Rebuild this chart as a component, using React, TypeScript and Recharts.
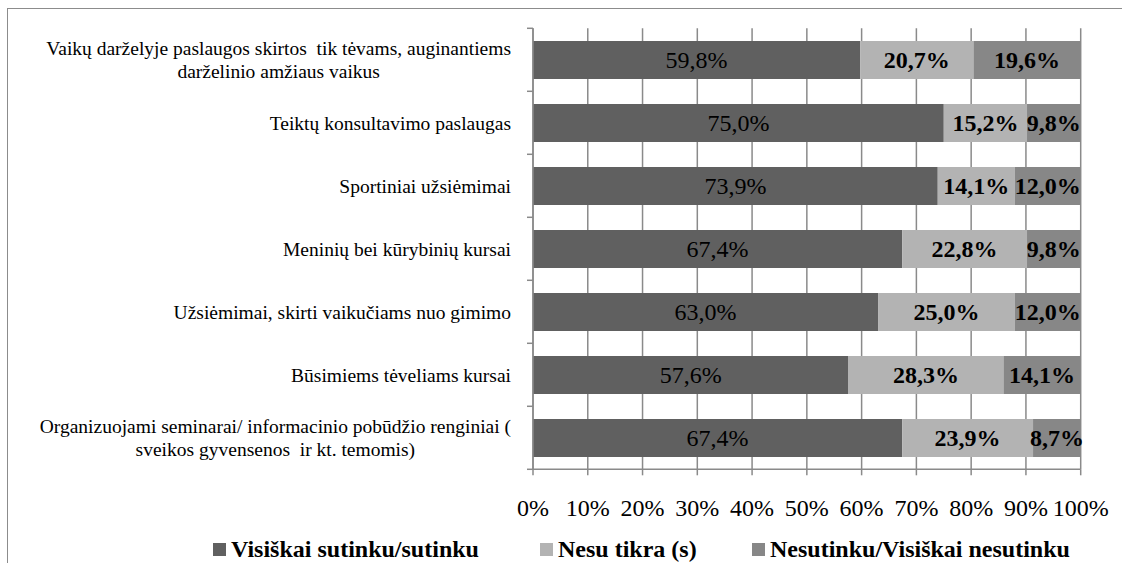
import React from "react";
import { BarChart, Bar, XAxis, YAxis, CartesianGrid, LabelList, Legend } from "recharts";

// Survey answers (per cent of respondents)
const categories = [
  "Vaikų darželyje paslaugos skirtos  tik tėvams, auginantiems\ndarželinio amžiaus vaikus",
  "Teiktų konsultavimo paslaugas",
  "Sportiniai užsiėmimai",
  "Meninių bei kūrybinių kursai",
  "Užsiėmimai, skirti vaikučiams nuo gimimo",
  "Būsimiems tėveliams kursai",
  "Organizuojami seminarai/ informacinio pobūdžio renginiai (\nsveikos gyvensenos  ir kt. temomis)",
];
const agree = [59.8, 75.0, 73.9, 67.4, 63.0, 57.6, 67.4];
const unsure = [20.7, 15.2, 14.1, 22.8, 25.0, 28.3, 23.9];
const disagree = [19.6, 9.8, 12.0, 9.8, 12.0, 14.1, 8.7];
const seriesNames = ["Visiškai sutinku/sutinku", "Nesu tikra (s)", "Nesutinku/Visiškai nesutinku"];
const xTicks = [0, 0.1, 0.2, 0.3, 0.4, 0.5, 0.6, 0.7, 0.8, 0.9, 1];

const data = categories.map((name, i) => ({
  name,
  agree: agree[i],
  unsure: unsure[i],
  disagree: disagree[i],
}));

const W = 1122;
const H = 563;
const FONT =
  "'Liberation Serif', 'Times New Roman', Times, Tinos, 'Nimbus Roman', 'FreeSerif', 'DejaVu Serif', 'Noto Serif', serif";
const GRID = "#8a8a8a";
const COLORS = ["#606060", "#b3b3b3", "#878787"];

const PLOT_LEFT = 533;
const PLOT_TOP = 28.3;
const PLOT_RIGHT = 1080.7;
const PLOT_BOTTOM = 469.3;
const BAND = (PLOT_BOTTOM - PLOT_TOP) / categories.length;
const LABEL_RIGHT = 511;
const CAT_SIZE = 19.5;
const LINE_GAP = 23;
const LEGEND_ITEM_W = [327, 212, 0];

let measureCtx: CanvasRenderingContext2D | null = null;
function textWidth(s: string) {
  if (!measureCtx) measureCtx = document.createElement("canvas").getContext("2d");
  if (!measureCtx) return s.length * CAT_SIZE * 0.45;
  measureCtx.font = `${CAT_SIZE}px ${FONT}`;
  return measureCtx.measureText(s).width;
}

const pct = (v: number) => `${v.toFixed(1).replace(".", ",")}%`;

// category label + boundary tick marks of the left axis
function CategoryTick(props: any) {
  const { y, payload, index } = props;
  const lines = String(payload.value).split("\n");
  const widest = Math.max(...lines.map(textWidth));
  const cx = LABEL_RIGHT - widest / 2;
  const first = y - ((lines.length - 1) * LINE_GAP) / 2;
  return (
    <g>
      <line x1={PLOT_LEFT - 6} x2={PLOT_LEFT} y1={y - BAND / 2} y2={y - BAND / 2} stroke={GRID} strokeWidth={1.5} />
      {index === categories.length - 1 && (
        <line x1={PLOT_LEFT - 6} x2={PLOT_LEFT} y1={y + BAND / 2} y2={y + BAND / 2} stroke={GRID} strokeWidth={1.5} />
      )}
      <text
        textAnchor={lines.length > 1 ? "middle" : "end"}
        fill="#000"
        style={{ whiteSpace: "pre", fontFamily: FONT, fontSize: CAT_SIZE }}
      >
        {lines.map((l, i) => (
          <tspan key={i} x={lines.length > 1 ? cx : LABEL_RIGHT} y={first + i * LINE_GAP} dy="0.35em">
            {l}
          </tspan>
        ))}
      </text>
    </g>
  );
}

function LegendContent(props: any) {
  // keep the series order of the reference (Recharts reverses it in vertical layout)
  const items = [...(props.payload || [])].sort(
    (a: any, b: any) => seriesNames.indexOf(a.value) - seriesNames.indexOf(b.value)
  );
  return (
    <div
      style={{
        display: "flex",
        alignItems: "center",
        paddingLeft: 213,
        fontFamily: FONT,
        fontWeight: 700,
        fontSize: 24,
        lineHeight: "28px",
        color: "#000",
      }}
    >
      {items.map((it: any, i: number) => (
        <div
          key={it.value}
          style={{ display: "flex", alignItems: "center", width: LEGEND_ITEM_W[i] || undefined, flex: "none" }}
        >
          <span style={{ width: 13, height: 13, background: it.color, marginRight: 5, display: "inline-block" }} />
          <span style={{ whiteSpace: "pre" }}>{it.value}</span>
        </div>
      ))}
    </div>
  );
}

export default function App() {
  const labelStyle = { fontFamily: FONT, fontSize: 24, fill: "#000" };
  return (
    <div style={{ position: "fixed", left: 0, top: 0, width: W, height: H, background: "#fff", overflow: "hidden", fontFamily: FONT }}>
      <div
        style={{
          position: "absolute",
          left: 7,
          top: 8,
          width: W + 100,
          height: H + 100,
          borderTop: "1px solid #8c8c8c",
          borderLeft: "1px solid #8c8c8c",
        }}
      />
      <div style={{ position: "absolute", left: 0, top: 0 }}>
        <BarChart
          width={W}
          height={H}
          data={data}
          layout="vertical"
          stackOffset="expand"
          barCategoryGap="20%"
          margin={{ top: PLOT_TOP, right: W - PLOT_RIGHT, left: 0, bottom: 0 }}
          style={{ fontFamily: FONT }}
        >
          <CartesianGrid horizontal={false} stroke={GRID} strokeWidth={1.5} />
          <XAxis
            type="number"
            domain={[0, 1]}
            ticks={xTicks}
            interval={0}
            height={H - PLOT_BOTTOM}
            tickFormatter={(v: number) => `${Math.round(v * 100)}%`}
            tick={{ fontSize: 24, fill: "#000", style: { fontFamily: FONT } }}
            tickSize={6}
            tickMargin={24}
            axisLine={{ stroke: GRID, strokeWidth: 1.5 }}
            tickLine={{ stroke: GRID, strokeWidth: 1.5 }}
          />
          <YAxis
            type="category"
            dataKey="name"
            width={PLOT_LEFT}
            interval={0}
            tickLine={false}
            axisLine={{ stroke: GRID, strokeWidth: 1.5 }}
            tick={<CategoryTick />}
          />
          <Legend
            layout="horizontal"
            verticalAlign="middle"
            align="center"
            content={<LegendContent />}
            wrapperStyle={{ left: 0, top: 535, width: W }}
          />
          <Bar dataKey="agree" name={seriesNames[0]} stackId="a" fill={COLORS[0]} isAnimationActive={false}>
            <LabelList dataKey="agree" position="center" formatter={(v: any) => pct(Number(v))} style={labelStyle} />
          </Bar>
          <Bar dataKey="unsure" name={seriesNames[1]} stackId="a" fill={COLORS[1]} isAnimationActive={false}>
            <LabelList
              dataKey="unsure"
              position="center"
              formatter={(v: any) => pct(Number(v))}
              style={{ ...labelStyle, fontWeight: 700 }}
            />
          </Bar>
          <Bar dataKey="disagree" name={seriesNames[2]} stackId="a" fill={COLORS[2]} isAnimationActive={false}>
            <LabelList
              dataKey="disagree"
              position="center"
              formatter={(v: any) => pct(Number(v))}
              style={{ ...labelStyle, fontWeight: 700 }}
            />
          </Bar>
        </BarChart>
      </div>
    </div>
  );
}
